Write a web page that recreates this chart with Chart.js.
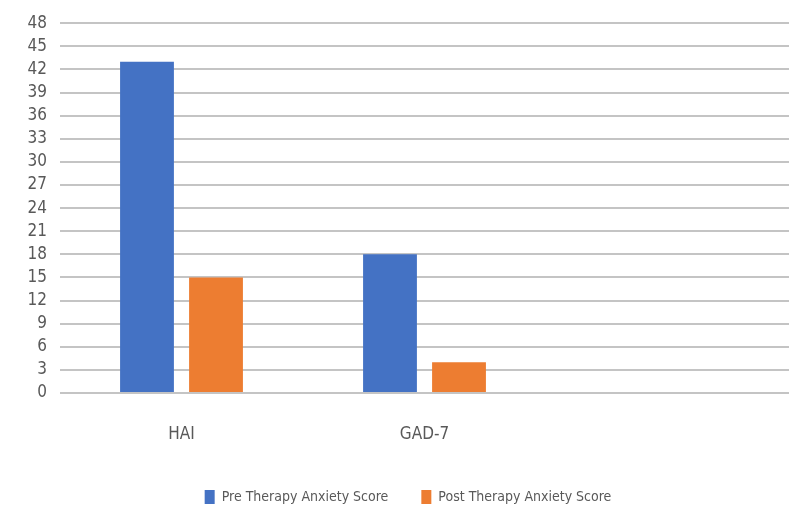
<!DOCTYPE html>
<html>
<head>
<meta charset="utf-8">
<script src="https://cdn.jsdelivr.net/npm/chart.js@4/dist/chart.umd.min.js"></script>
<style>
  html, body { margin: 0; padding: 0; background: #ffffff; }
  #wrap { width: 801px; height: 508px; }
</style>
</head>
<body>
<div id="wrap"><canvas id="c" width="801" height="508"></canvas></div>
<script>
// Anxiety scores before and after therapy, per assessment scale
const categories = ['HAI', 'GAD-7', ''];
const preTherapy = [43, 18, null];
const postTherapy = [15, 4, null];
const yMin = 0;
const yMax = 48;
const yStep = 3;

const textColor = '#595959';
const fontFamily = '"DejaVu Sans Condensed", "Liberation Sans Narrow", "Liberation Sans", sans-serif';

new Chart(document.getElementById('c'), {
  type: 'bar',
  data: {
    labels: categories,
    datasets: [
      {
        label: 'Pre Therapy Anxiety Score',
        data: preTherapy,
        backgroundColor: '#4472c4',
        borderWidth: 0,
        barPercentage: 0.78,
        categoryPercentage: 0.568
      },
      {
        label: 'Post Therapy Anxiety Score',
        data: postTherapy,
        backgroundColor: '#ed7d31',
        borderWidth: 0,
        barPercentage: 0.78,
        categoryPercentage: 0.568
      }
    ]
  },
  options: {
    responsive: false,
    animation: false,
    layout: { padding: { top: 7, right: 12, left: 27, bottom: -6 } },
    plugins: {
      title: { display: false },
      tooltip: { enabled: false },
      legend: {
        position: 'bottom',
        labels: {
          color: textColor,
          font: { family: fontFamily, size: 14 },
          boxWidth: 10,
          boxHeight: 14,
          padding: 33
        }
      }
    },
    scales: {
      x: {
        grid: { display: false, drawTicks: false },
        border: { display: false },
        ticks: {
          color: textColor,
          font: { family: fontFamily, size: 17 },
          padding: 31
        },
        afterFit: (scale) => { scale.height = 64; }
      },
      y: {
        min: yMin,
        max: yMax,
        ticks: {
          stepSize: yStep,
          autoSkip: false,
          color: textColor,
          font: { family: fontFamily, size: 17 },
          padding: 13
        },
        grid: {
          color: '#c4c4c4',
          lineWidth: 2,
          drawTicks: false
        },
        border: { display: false },
        afterFit: (scale) => { scale.width = 33; }
      }
    }
  }
});
</script>
</body>
</html>
